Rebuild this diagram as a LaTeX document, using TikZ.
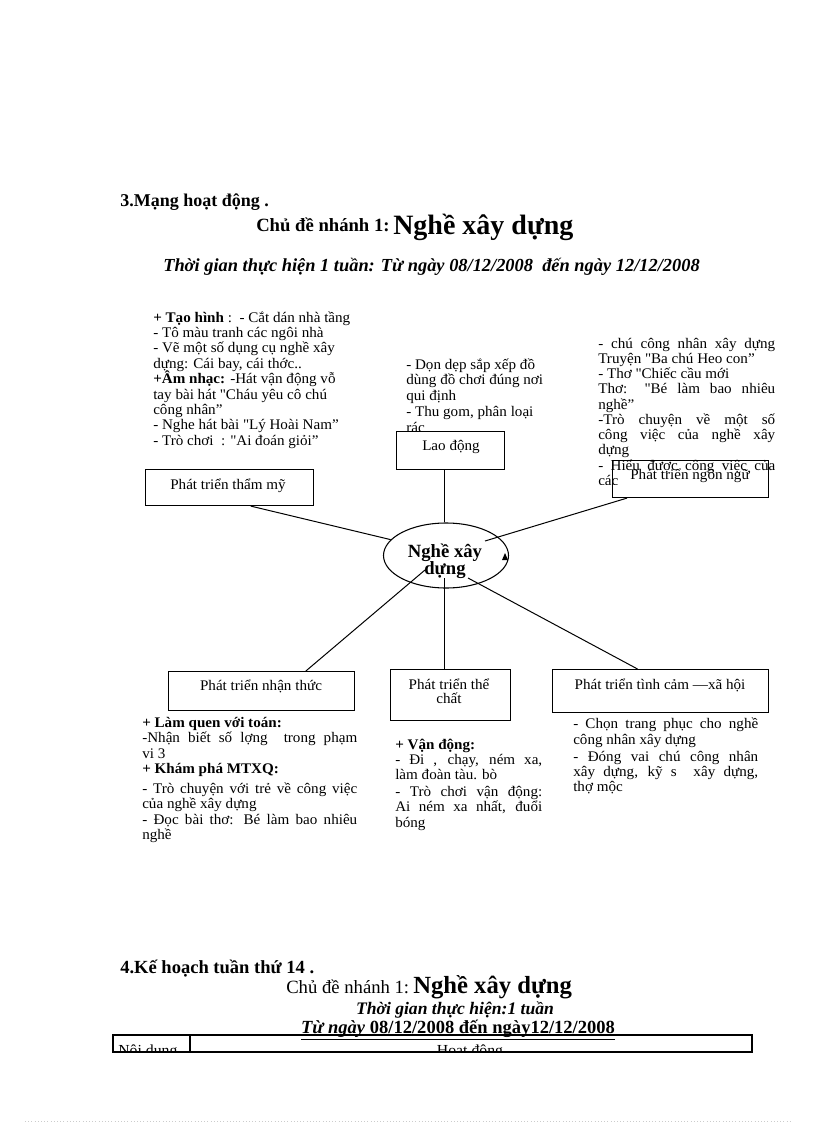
\documentclass[tikz,border=0pt]{standalone}
\usepackage{fontspec}
\setmainfont{Liberation Serif}
\newfontfamily\bodyfont{Liberation Serif}[FakeStretch=1.03]
\usetikzlibrary{shapes.geometric,calc}
\newcommand\J[2]{\makebox[#1pt][s]{#2}}
\newcommand\q{\textquotedbl}
\newcommand\tblock[5]{\foreach \tline [count=\ti from 0] in {#5}{\node[txt, anchor=base west] (#1\ti) at (#2,{#3+\ti*#4}) {\tline};}}
\tikzset{
  txt/.style={inner sep=0pt, font=\bodyfont\fontsize{11}{12}\selectfont},
  box/.style={draw, line width=0.8pt, inner sep=0pt, anchor=north west},
  conn/.style={line width=0.75pt},
  head/.style={inner sep=0pt, font=\fontsize{13.5}{15}\selectfont\bfseries},
}
\begin{document}
\begin{tikzpicture}[x=0.75pt,y=-0.75pt]
\useasboundingbox (0,0) rectangle (816,1123);
% headings
\node[head, anchor=base west] (h1) at (120,207) {3.Mạng hoạt động .};
\node[head, anchor=base west, font=\fontsize{14}{16}\selectfont\bfseries] (h2a) at (256,232) {Chủ đề nhánh 1:};
\node[head, anchor=base west, font=\fontsize{21}{23}\selectfont\bfseries] (h2b) at (393,234) {Nghề xây dựng};
\node[head, anchor=base west, font=\fontsize{13.8}{15}\selectfont\bfseries\itshape] (h3) at (163,271) {Thời gian thực hiện 1 tuần: Từ ngày 08/12/2008\ \ đến ngày 12/12/2008};
% text blocks
\tblock{tmt}{153}{322}{15.4}{{\textbf{+ Tạo hình} :\ \ - Cắt dán nhà tầng},{- Tô màu tranh các ngôi nhà},{- Vẽ một số dụng cụ nghề xây},{dựng: Cái bay, cái thớc..},{\textbf{+Âm nhạc:} -Hát vận động vỗ},{tay bài hát \q Cháu yêu cô chú},{công nhân”},{- Nghe hát bài \q Lý Hoài Nam”},{- Trò chơi\ \ : \q Ai đoán giỏi”}}
\tblock{ldt}{406}{369}{15.75}{{- Dọn dẹp sắp xếp đồ},{dùng đồ chơi đúng nơi},{qui định},{- Thu gom, phân loại},{rác}}
\begin{scope}
\clip (590,330) rectangle (785,484);
\tblock{nnt}{598}{348}{15.25}{{\J{132.75}{- chú công nhân xây dựng}},{Truyện \q Ba chú Heo con”},{- Thơ \q Chiếc cầu mới},{\J{132.75}{Thơ: \q Bé làm bao nhiêu}},{nghề”},{\J{132.75}{-Trò chuyện về một số}},{\J{132.75}{công việc của nghề xây}},{dựng},{\J{132.75}{- Hiểu được công việc của}},{các}}
\end{scope}
\tblock{nta}{142}{727}{15.6}{{\textbf{+ Làm quen với toán:}},{\J{161.25}{-Nhận biết số lợng\ \ trong phạm}},{vi 3},{\textbf{+ Khám phá MTXQ:}}}
\tblock{ntb}{142}{793}{15.5}{{\J{161.25}{- Trò chuyện với trẻ về công việc}},{của nghề xây dựng},{\J{161.25}{- Đọc bài thơ: Bé làm bao nhiêu}},{nghề}}
\tblock{tca}{395}{749}{15}{{\textbf{+ Vận động:}},{\J{110.25}{- Đi , chạy, ném xa,}},{làm đoàn tàu. bò}}
\tblock{tcb}{395}{796}{15.5}{{\J{110.25}{- Trò chơi vận động:}},{\J{110.25}{Ai ném xa nhất, đuổi}},{bóng}}
\tblock{xha}{573}{728}{16}{{\J{138.75}{- Chọn trang phục cho nghề}},{công nhân xây dựng}}
\tblock{xhb}{573}{761}{15}{{\J{138.75}{- Đóng vai chú công nhân}},{\J{138.75}{xây dựng, kỹ s\ \ xây dựng,}},{thợ mộc}}
% boxes
\node[box, minimum width=126pt, minimum height=27pt] (tm) at (145,469) {};
\node[box, fill=white, minimum width=81pt, minimum height=28.5pt] (ld) at (396,431) {};
\node[box, minimum width=117pt, minimum height=27.75pt] (nn) at (612,460) {};
\node[box, minimum width=139.5pt, minimum height=29.25pt] (nt) at (168,671) {};
\node[box, minimum width=90pt, minimum height=38.25pt] (tc) at (390,669) {};
\node[box, minimum width=162pt, minimum height=32.25pt] (xh) at (552,669) {};
% box labels
\node[txt, anchor=base] (tmL) at (228,489) {Phát triển thẩm mỹ};
\node[txt, anchor=base] (ldL) at (451,450) {Lao động};
\node[txt, anchor=base] (nnL) at (690,479) {Phát triển ngôn ngữ};
\node[txt, anchor=base] (ntL) at (261,690) {Phát triển nhận thức};
\node[txt, anchor=base] (tcL1) at (449,689) {Phát triển thể};
\node[txt, anchor=base] (tcL2) at (449,703) {chất};
\node[txt, anchor=base] (xhL) at (660,689) {Phát triển tình cảm —xã hội};
% centre
\node[draw, ellipse, line width=0.8pt, minimum width=93.75pt, minimum height=48.75pt, inner sep=0pt] (el) at (446,555.5) {};
\node[head, anchor=base, font=\fontsize{14}{16}\selectfont\bfseries] (elL1) at (445,557) {Nghề xây};
\node[head, anchor=base, font=\fontsize{14}{16}\selectfont\bfseries] (elL2) at (445,574) {dựng};
\fill (502,560) -- (505,553) -- (508,560) -- cycle;
% connectors
\coordinate (c1) at (425,570);
\coordinate (c2) at (444,578);
\coordinate (c3) at (468,578);
\coordinate (c4) at (485,541);
\draw[conn] ($(tm.south west)!0.625!(tm.south east)$) -- (el.164.5);
\draw[conn] ($(ld.south west)!0.444!(ld.south east)$) coordinate (ldS) -- (ldS |- el.north);
\draw[conn] ($(nn.south west)!0.096!(nn.south east)$) -- (c4);
\draw[conn] (c1) -- ($(nt.north west)!0.737!(nt.north east)$);
\draw[conn] (c2) -- (c2 |- tc.north);
\draw[conn] (c3) -- ($(xh.north west)!0.394!(xh.north east)$);
% bottom section
\node[head, anchor=base west, font=\fontsize{13.9}{15}\selectfont\bfseries] (k1) at (120,973) {4.Kế hoạch tuần thứ 14 .};
\node[head, anchor=base west, font=\fontsize{14}{16}\selectfont] (k2a) at (286,993) {Chủ đề nhánh 1:};
\node[head, anchor=base west, font=\fontsize{18.5}{21}\selectfont\bfseries] (k2b) at (413,993) {Nghề xây dựng};
\node[head, anchor=base, font=\fontsize{13.2}{15}\selectfont\bfseries\itshape] (k3) at (455,1014.5) {Thời gian thực hiện:1 tuần};
\node[head, anchor=base, font=\fontsize{13.9}{15}\selectfont\bfseries] (k4) at (458,1033.5) {\underline{\textit{Từ ngày} 08/12/2008 đến ngày12/12/2008}};
\draw[line width=0.8pt] (113,1035) rectangle (752,1052);
\draw[line width=0.8pt] (190,1035) -- (190,1052);
\begin{scope}
\clip (113,1035) rectangle (752,1052);
\node[txt, anchor=base west, font=\bodyfont\fontsize{11.5}{12}\selectfont] (nd) at (118,1055) {Nội dung};
\node[txt, anchor=base, font=\bodyfont\fontsize{11.5}{12}\selectfont] (hd) at (470,1055) {Hoạt động};
\end{scope}
\draw[gray!40, dotted] (25,1121) -- (790,1121);
\end{tikzpicture}
\end{document}
